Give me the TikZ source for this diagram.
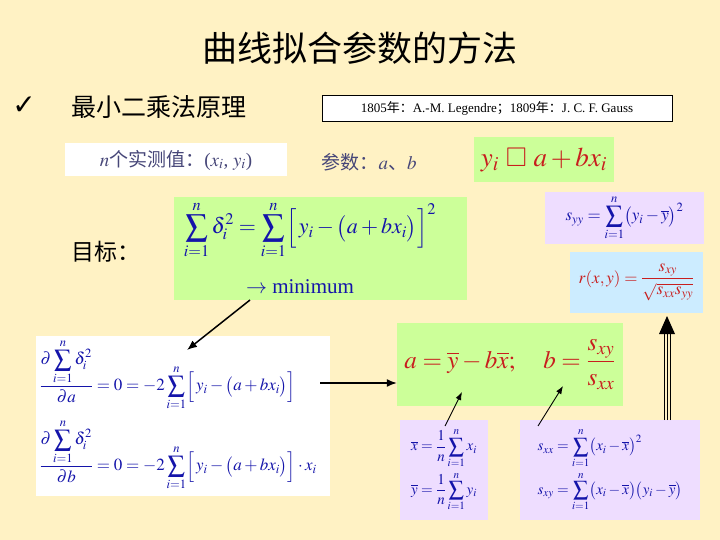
\documentclass[tikz,border=0pt]{standalone}
\usepackage{amsmath}
\usepackage{mathptmx}
\usepackage{amssymb}
\usepackage{fontspec}
\setmainfont{Liberation Serif}
\newfontfamily\cjk{Noto Sans CJK SC}
\newfontfamily\djv{DejaVu Sans}
\usetikzlibrary{arrows.meta}
\definecolor{bg}{RGB}{255,242,196}
\definecolor{gbox}{RGB}{204,255,153}
\definecolor{pbox}{RGB}{238,221,255}
\definecolor{lbbox}{RGB}{204,236,255}
\definecolor{mblue}{RGB}{20,20,170}
\definecolor{mred}{RGB}{200,30,30}
\definecolor{gtxt}{RGB}{70,70,120}
\tikzset{
 fs/.style={font=\fontsize{#1}{#1}\selectfont},
 arr/.style={-{Latex[length=10pt,width=8pt]},line width=1.5pt},
 tarr/.style={-{Latex[length=8pt,width=6pt]},line width=0.9pt},
}
\begin{document}
\begin{tikzpicture}[x=1pt,y=-1pt]
\fill[bg] (0,0) rectangle (720,540);
\useasboundingbox (0,0) rectangle (720,540);
\node (title) at (360,48) [fs=35]{\cjk 曲线拟合参数的方法};
\node (chk) at (24,106) [fs=28]{\djv ✓};
\node (sub) [anchor=west,fs=25] at (68,107){\cjk 最小二乘法原理};
\node (hist) [draw=black,fill=white,minimum width=350,minimum height=26,inner sep=0pt,fs=13] at (497,108)
 {1805{\cjk 年：}A.-M. Legendre{\cjk ；}1809{\cjk 年：}J. C. F. Gauss};
\node (obs) [fill=white,minimum width=222,minimum height=33,text=gtxt,fs=19] at (176,160)
 {$n${\cjk 个实测值：}($x_i$, $y_i$)};
\node (par) [text=gtxt,fs=19,anchor=west] at (318,162){{\cjk 参数：}$a${\cjk 、}$b$};
\node (model) [fill=gbox,minimum width=140,minimum height=45,text=mred,fs=27] at (544,160)
 {$y_i\ \square\ a+bx_i$};
\node (syy) [fill=pbox,minimum width=159,minimum height=50,text=mblue,fs=17] at (624.5,218)
 {$\displaystyle s_{yy}=\sum_{i=1}^{n}\bigl(y_i-\overline{y}\bigr)^2$};
\node (r) [fill=lbbox,minimum width=133,minimum height=61,text=mred,fs=17] at (636.5,282.5)
 {$\displaystyle r(x,y)=\frac{s_{xy}}{\sqrt{s_{xx}s_{yy}}}$};
\node (goal) [fs=23,anchor=west] at (68,252){\cjk 目标：};
\node (obj) [fill=gbox,minimum width=293,minimum height=103] at (320.5,248.5){};
\node (objf) [text=mblue,fs=22] at (310,230)
 {$\displaystyle \sum_{i=1}^{n}\delta_i^2=\sum_{i=1}^{n}\Bigl[\,y_i-\bigl(a+bx_i\bigr)\Bigr]^2$};
\node (minw) [text=mblue,fs=21] at (300,287){$\rightarrow$ minimum};
\node (deriv) [fill=white,minimum width=294,minimum height=160] at (183,416){};
\node (d1) [text=mblue,fs=17,anchor=west] at (36,375)
 {$\displaystyle \frac{\partial\displaystyle\sum_{i=1}^{n}\delta_i^2}{\partial a}=0=-2\sum_{i=1}^{n}\Bigl[\,y_i-\bigl(a+bx_i\bigr)\Bigr]$};
\node (d2) [text=mblue,fs=17,anchor=west] at (36,455)
 {$\displaystyle \frac{\partial\displaystyle\sum_{i=1}^{n}\delta_i^2}{\partial b}=0=-2\sum_{i=1}^{n}\Bigl[\,y_i-\bigl(a+bx_i\bigr)\Bigr]\cdot x_i$};
\node (solbox) [fill=gbox,minimum width=226,minimum height=83] at (510,364.5){};
\node (sol) [text=mred,fs=25,inner sep=0pt] at (510,364.5)
 {$a=\overline{y}-b\overline{x};\quad b=\dfrac{s_{xy}}{s_{xx}}$};
\node (means) [fill=pbox,minimum width=88,minimum height=100,text=mblue,fs=15,align=left,inner sep=1pt] at (444,470)
 {$\displaystyle \overline{x}=\frac{1}{n}\sum_{i=1}^{n}x_i$\\[3pt]$\displaystyle \overline{y}=\frac{1}{n}\sum_{i=1}^{n}y_i$};
\node (ss) [fill=pbox,minimum width=180,minimum height=100,text=mblue,fs=15,align=left,inner sep=1pt] at (610,470)
 {$\displaystyle s_{xx}=\sum_{i=1}^{n}\bigl(x_i-\overline{x}\bigr)^2$\\[3pt]$\displaystyle s_{xy}=\sum_{i=1}^{n}\bigl(x_i-\overline{x}\bigr)\bigl(y_i-\overline{y}\bigr)$};
\coordinate (a1s) at (250,300); \coordinate (a1e) at (187,350);
\draw[arr] (a1s) -- (a1e);
\coordinate (a2s) at (320,383);
\draw[arr] (a2s) -- (a2s -| solbox.west);
\coordinate (m1) at (445,426); \coordinate (m2) at (462,392);
\draw[tarr] (m1) -- (m2);
\coordinate (s1) at (538,426); \coordinate (s2) at (563,386);
\draw[tarr] (s1) -- (s2);
\coordinate (t1) at (667,420); \coordinate (t2) at (667,332);
\foreach \d in {-3,0,3}{\draw[line width=0.9pt] ([xshift=\d]t1) -- ([xshift=\d]t2);}
\fill (659,334) -- (675,334) -- (667,316) -- cycle;
\end{tikzpicture}
\end{document}
